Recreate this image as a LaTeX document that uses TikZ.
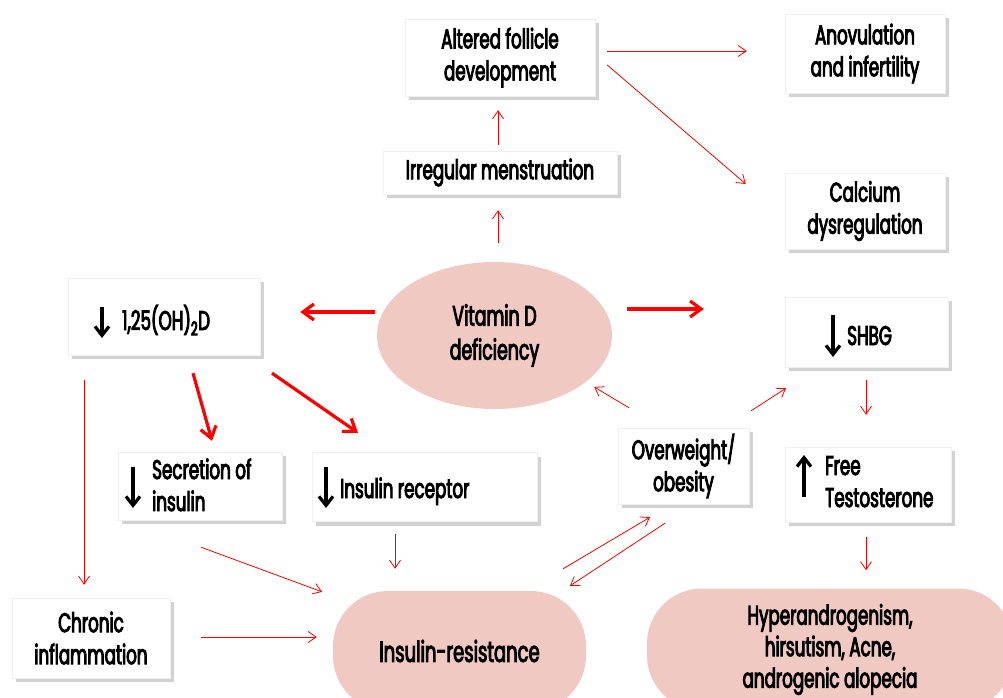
\documentclass[tikz,border=0pt]{standalone}
\usepackage{fontspec}
\setmainfont{Poppins}[FakeStretch=0.62]
\usetikzlibrary{arrows.meta,shadows,calc,shapes.geometric}
\definecolor{pinkfill}{RGB}{241,201,195}
\definecolor{arrred}{RGB}{255,0,0}
\newcommand\heavyon{\special{pdf:literal direct 2 Tr 0.9 w 0 G}}
\newcommand\heavyoff{\special{pdf:literal direct 0 Tr}}
\begin{document}
\begin{tikzpicture}[x=1pt,y=-1pt,
  txt/.style={font=\fontsize{27}{32}\selectfont, execute at begin node=\heavyon, execute at end node=\heavyoff},
  box/.style={rectangle, fill=white, draw=black!6, inner sep=0pt, align=center, txt,
    drop shadow={shadow xshift=4pt, shadow yshift=-4pt, fill=black!35}},
  roundbox/.style={rectangle, rounded corners=55pt, fill=pinkfill, inner sep=0pt, align=center, txt},
  lbl/.style={inner sep=0pt, align=left, txt},
  thinarr/.style={draw=arrred, line width=0.8pt, -{Straight Barb[length=8pt,width=11pt]}},
  thickarr/.style={draw=arrred, line width=3.2pt, -{Straight Barb[length=11pt,width=16pt]}},
  blackarr/.style={draw=black, line width=3.2pt, -{Straight Barb[length=9pt,width=14pt]}}
]
\clip (0,0) rectangle (1003,697);
\fill[white] (0,0) rectangle (1003,697);

% boxes
\node[box, minimum width=190pt, minimum height=77pt] (follicle) at (500,57.5) {Altered follicle\\development};
\node[box, minimum width=234pt, minimum height=43pt] (menstr) at (500,172.5) {Irregular menstruation};
\node[box, minimum width=160pt, minimum height=79pt] (anov) at (865,53.5) {Anovulation\\and infertility};
\node[box, minimum width=160pt, minimum height=76pt] (calcium) at (865,211) {Calcium\\dysregulation};
\node[ellipse, fill=pinkfill, minimum width=235pt, minimum height=147pt, inner sep=0pt, align=center, txt,
  font=\fontsize{28}{34}\selectfont] (vitd) at (494.5,335.5) {Vitamin D\\deficiency};
\node[box, minimum width=192pt, minimum height=77pt] (oh2d) at (164,316.5) {};
\node[box, minimum width=163pt, minimum height=70pt] (shbg) at (866.5,332) {};
\node[box, minimum width=164pt, minimum height=68pt] (secr) at (200,486) {};
\node[box, minimum width=225pt, minimum height=69pt] (receptor) at (424.5,487) {};
\node[box, minimum width=131pt, minimum height=76pt] (overweight) at (683.5,466) {Overweight/\\obesity};
\node[box, minimum width=166pt, minimum height=75pt] (free) at (868,484.5) {};
\node[box, minimum width=158pt, minimum height=80pt] (chronic) at (91,638) {Chronic\\inflammation};
\node[roundbox, minimum width=253pt, minimum height=120pt, font=\fontsize{29}{34}\selectfont] (ir) at (459.5,651) {Insulin-resistance};
\node[roundbox, minimum width=366pt, minimum height=122pt, font=\fontsize{27}{31.5}\selectfont] (hyper) at (830,649.5) {Hyperandrogenism,\\hirsutism, Acne,\\androgenic alopecia};

% labels with arrows inside boxes
\node[lbl, anchor=base west] (oh2dtext) at ($(oh2d.center)+(-42,13.5)$) {1,25(OH)\textsubscript{2}D};
\draw[blackarr] ($(oh2d.center)+(-62,-9.5)$) -- ($(oh2d.center)+(-62,21.5)$);
\node[lbl, anchor=base west] (shbgtext) at ($(shbg.center)+(-19.5,13)$) {SHBG};
\draw[blackarr] ($(shbg.center)+(-33.5,-17)$) -- ($(shbg.center)+(-33.5,25)$);
\node[lbl, anchor=base west] (secrtext) at ($(secr.center)+(-48,25)$) {Secretion of\\insulin};
\draw[blackarr] ($(secr.center)+(-67,-19)$) -- ($(secr.center)+(-67,22)$);
\node[lbl, anchor=base west] (receptortext) at ($(receptor.center)+(-84.5,11)$) {Insulin receptor};
\draw[blackarr] ($(receptor.center)+(-98.5,-20)$) -- ($(receptor.center)+(-98.5,21)$);
\node[lbl, anchor=base west] (freetext) at ($(free.center)+(-43,22.5)$) {Free\\Testosterone};
\draw[blackarr] ($(free.center)+(-64,12.5)$) -- ($(free.center)+(-64,-29.5)$);

% thick connectors
\draw[thickarr] ($(vitd.west)+(-2,-23.5)$) -- ($(oh2d.east)+(40,-4.5)$);
\draw[thickarr] ($(vitd.east)+(15,-26.5)$) -- ($(shbg.west)+(-81,-23)$);
\draw[thickarr] ($(oh2d.south)+(29,18)$) -- ($(secr.north)+(12,-11)$);
\draw[thickarr] ($(oh2d.south)+(108,18)$) -- ($(receptor.north)+(-66.5,-19.5)$);

% thin connectors
\draw[thinarr] ($(vitd.north)+(3.5,-19)$) -- ($(menstr.south)+(-2,16)$);
\draw[thinarr] ($(menstr.north)+(-2,-6)$) -- ($(follicle.south)+(-2,14)$);
\draw[thinarr] ($(follicle.east)+(12,-6.5)$) -- ($(anov.west)+(-38,-2.5)$);
\draw[thinarr] ($(follicle.east)+(12,7.5)$) -- ($(calcium.west)+(-39,-27)$);
\draw[thinarr] ($(oh2d.south)+(-80,25)$) -- ($(chronic.north)+(-7,-13)$);
\draw[thinarr] ($(secr.south)+(1,27)$) -- ($(ir.north)+(-137.5,1)$);
\draw[thinarr] ($(chronic.east)+(31,-1)$) -- ($(ir.west)+(-16,-14)$);
\draw[thinarr] ($(receptor.south)+(-29.5,12.5)$) -- ($(ir.north)+(-64.5,-22)$);
\draw[thinarr] ($(ir.north)+(103.5,-22)$) -- ($(overweight.south)+(-33.5,13)$);
\draw[thinarr] ($(overweight.south)+(-18.5,19)$) -- ($(ir.north)+(110.5,-5)$);
\draw[thinarr] ($(overweight.north)+(-54.5,-20)$) -- ($(vitd.east)+(-18,51.5)$);
\draw[thinarr] ($(overweight.north)+(67.5,-17)$) -- ($(shbg.south)+(-80.5,21)$);
\draw[thinarr] ($(shbg.south)+(-0.5,13)$) -- ($(free.north)+(-2,-32)$);
\draw[thinarr] ($(free.south)+(-2,15)$) -- ($(hyper.north)+(36,-18)$);
\end{tikzpicture}
\end{document}
